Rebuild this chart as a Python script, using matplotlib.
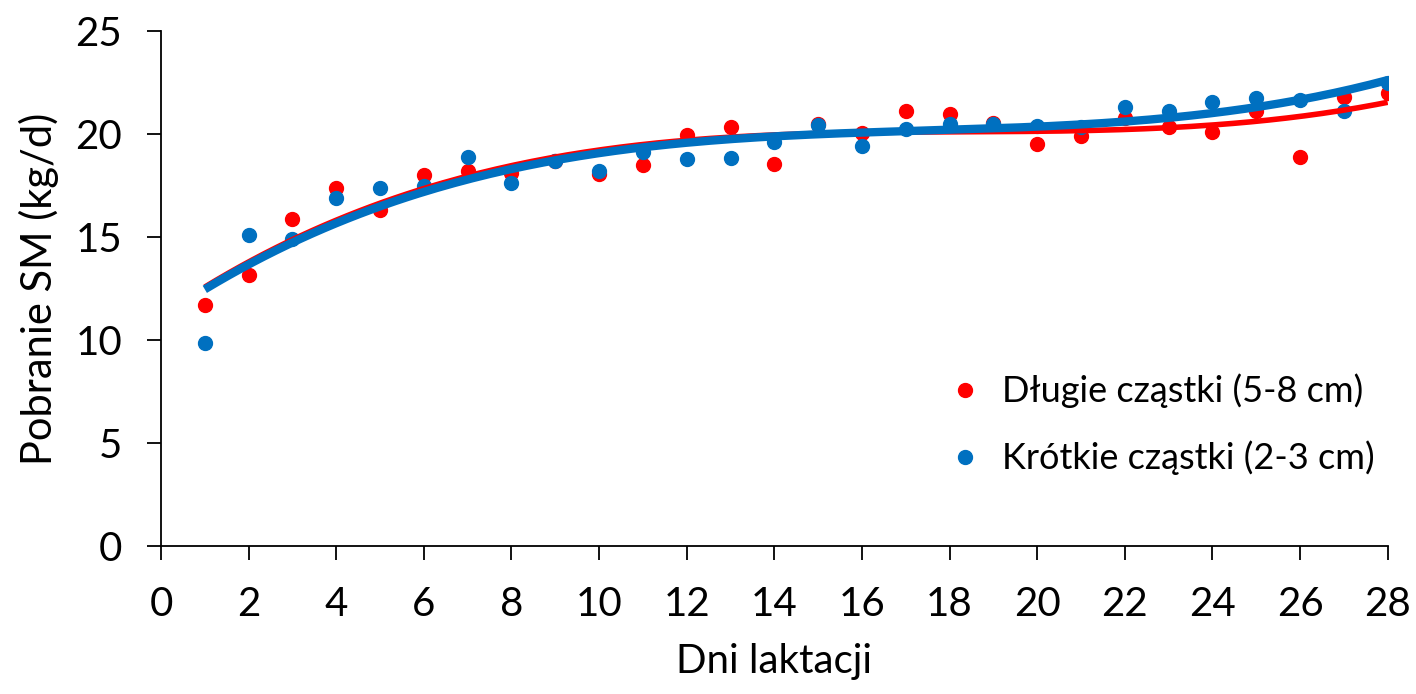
import numpy as np
import matplotlib.pyplot as plt

plt.rcParams['font.family'] = ['Lato', 'DejaVu Sans']

dni = np.arange(1, 29)
dlugie = [11.7, 13.15, 15.85, 17.4, 16.3, 18.0, 18.2, 18.1, 18.7, 18.05,
          18.5, 19.95, 20.35, 18.55, 20.5, 20.05, 21.1, 20.95, 20.55, 19.5,
          19.9, 20.8, 20.35, 20.1, 21.1, 18.9, 21.8, 22.0]
krotkie = [9.85, 15.1, 14.9, 16.9, 17.4, 17.5, 18.9, 17.6, 18.7, 18.2,
           19.15, 18.8, 18.85, 19.6, 20.45, 19.4, 20.25, 20.5, 20.5, 20.4,
           20.35, 21.3, 21.1, 21.55, 21.75, 21.65, 21.1, 22.5]

fig = plt.figure(figsize=(14.16, 6.94), dpi=100)
ax = fig.add_axes([0.1137, 0.2133, 0.8663, 0.742])

# wielomian 3 stopnia jak linia trendu w Excelu
xs = np.linspace(1, 28, 200)
trend_d = np.polyval(np.polyfit(dni, dlugie, 3), xs)
trend_k = np.polyval(np.polyfit(dni, krotkie, 3), xs)

ax.plot(dni, dlugie, 'o', color='#ff0000', ms=10, label='Długie cząstki (5-8 cm)', zorder=3)
ax.plot(dni, krotkie, 'o', color='#0070c0', ms=10, label='Krótkie cząstki (2-3 cm)', zorder=3)
ax.plot(xs, trend_d, color='#ff0000', lw=4, zorder=4, solid_capstyle='butt')
ax.plot(xs, trend_k, color='#0070c0', lw=6, zorder=5, solid_capstyle='butt')

ax.set_xlim(0, 28)
ax.set_ylim(0, 25)
ax.set_xticks(range(0, 29, 2))
ax.set_yticks(range(0, 26, 5))
ax.spines['top'].set_visible(False)
ax.spines['right'].set_visible(False)
for s in ['left', 'bottom']:
    ax.spines[s].set_linewidth(1.3)
ax.tick_params(direction='out', length=10, width=1.3, labelsize=29)
ax.tick_params(axis='x', pad=19)
ax.tick_params(axis='y', pad=18)
ax.set_xlabel('Dni laktacji', fontsize=29, labelpad=14)
ax.set_ylabel('Pobranie SM (kg/d)', fontsize=30, labelpad=12)

ax.legend(loc='center left', bbox_to_anchor=(0.6406, 0.236), frameon=False,
          fontsize=26, handlelength=1.0, handletextpad=0.52, labelspacing=0.9,
          borderpad=0, borderaxespad=0)

fig.savefig('out.png', dpi=100)
